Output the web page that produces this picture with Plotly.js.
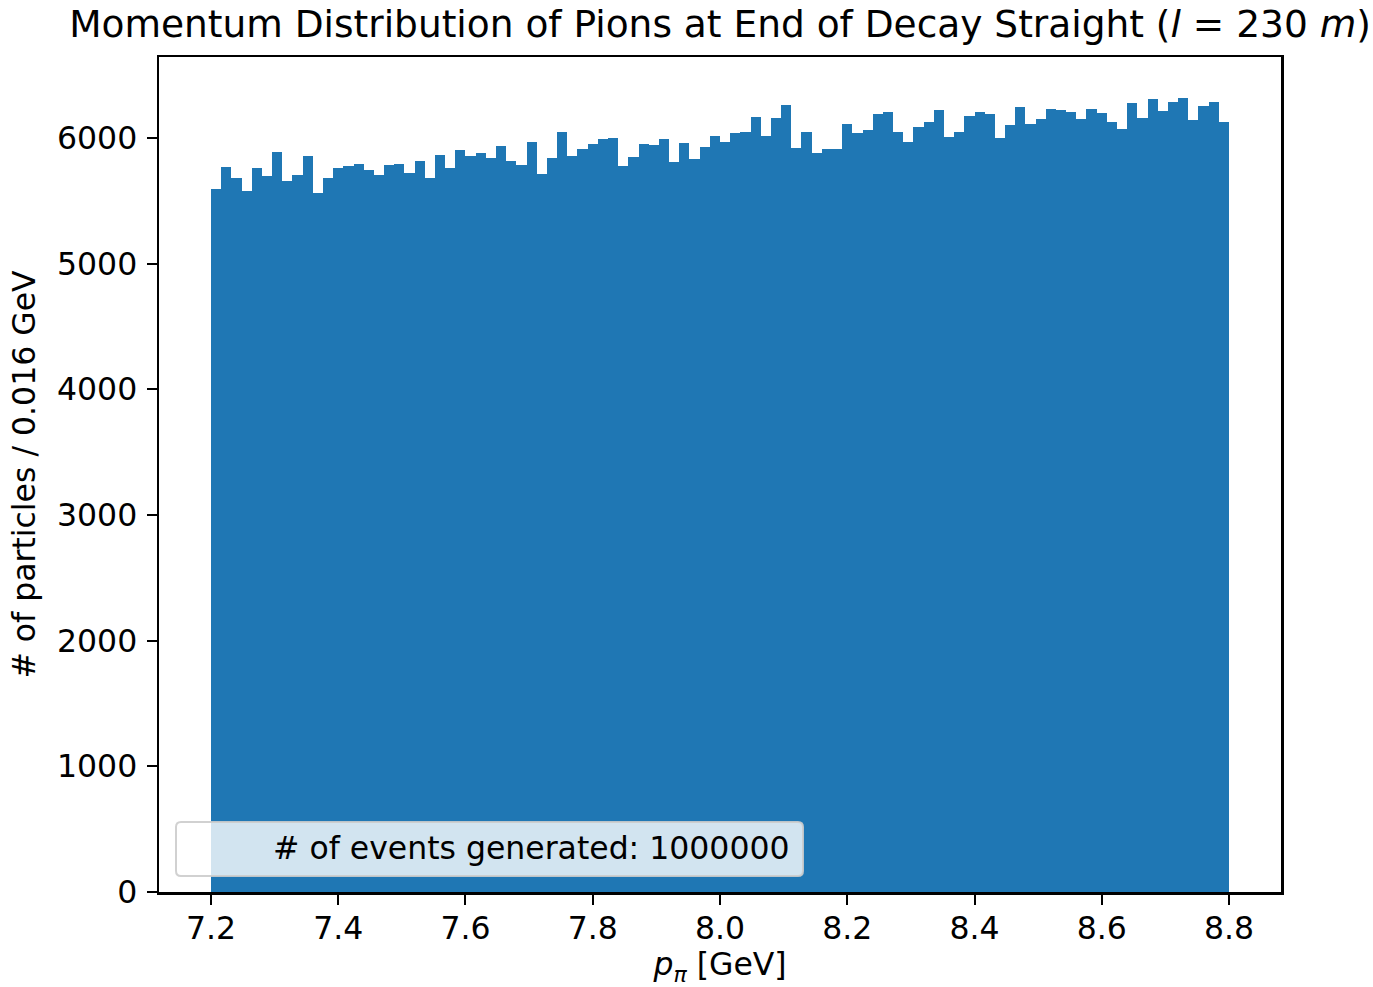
<!DOCTYPE html>
<html>
<head>
<meta charset="utf-8">
<script src="https://cdn.plot.ly/plotly-3.0.1.min.js"></script>
<style>
  html, body { margin: 0; padding: 0; background: #ffffff; }
  #chart { width: 1373px; height: 987px; }
</style>
</head>
<body>
<div id="chart"></div>
<script>
// Histogram: 100 bins of 0.016 GeV from 7.2 to 8.8 GeV
const binStart = 7.2;
const binWidth = 0.016;
const counts = [
  5595, 5770, 5683, 5577, 5757, 5694, 5890, 5659, 5704, 5853,
  5558, 5683, 5760, 5776, 5792, 5741, 5707, 5784, 5789, 5722,
  5818, 5680, 5861, 5757, 5908, 5855, 5882, 5837, 5937, 5815,
  5786, 5969, 5714, 5839, 6049, 5855, 5913, 5953, 5988, 5996,
  5778, 5845, 5951, 5940, 5988, 5805, 5956, 5829, 5924, 6017,
  5969, 6036, 6044, 6165, 6012, 6160, 6266, 5919, 6044, 5877,
  5913, 5910, 6107, 6041, 6060, 6192, 6203, 6049, 5967, 6091,
  6128, 6219, 6009, 6046, 6171, 6205, 6187, 5996, 6104, 6243,
  6110, 6152, 6234, 6221, 6205, 6150, 6227, 6197, 6128, 6070,
  6279, 6155, 6311, 6216, 6287, 6314, 6144, 6253, 6285, 6128
];
const xTickVals = [7.2, 7.4, 7.6, 7.8, 8.0, 8.2, 8.4, 8.6, 8.8];
const yTickVals = [0, 1000, 2000, 3000, 4000, 5000, 6000];
const titleText = 'Momentum Distribution of Pions at End of Decay Straight (<i>l</i> = 230 <i>m</i>)';
const xLabel = '<i>p</i><sub><i>π</i></sub> [GeV]';
const yLabel = '# of particles / 0.016 GeV';
const legendText = '# of events generated: 1000000';

const centers = counts.map((_, i) => binStart + binWidth * (i + 0.5));

const FONT = 'DejaVu Sans, sans-serif';
const FS = 31.5;

const trace = {
  type: 'bar',
  x: centers,
  y: counts,
  width: binWidth,
  marker: { color: '#1f77b4', line: { width: 0 } },
  hoverinfo: 'x+y'
};

// rounded legend box in pixel units anchored at paper coordinates
function roundedRect(w, h, r) {
  return `M ${r} 0 L ${w - r} 0 Q ${w} 0 ${w} ${r} L ${w} ${h - r} Q ${w} ${h} ${w - r} ${h} ` +
         `L ${r} ${h} Q 0 ${h} 0 ${h - r} L 0 ${r} Q 0 0 ${r} 0 Z`;
}

const layout = {
  width: 1373,
  height: 987,
  paper_bgcolor: '#ffffff',
  plot_bgcolor: '#ffffff',
  margin: { l: 159, r: 92, t: 57, b: 95 },
  showlegend: false,
  bargap: 0,
  font: { family: FONT, size: FS, color: '#000000' },
  title: {
    text: titleText,
    font: { family: FONT, size: 37.5, color: '#000000' },
    x: 0.5, xref: 'paper', xanchor: 'center',
    y: 1 - 24 / 987, yref: 'container', yanchor: 'middle'
  },
  xaxis: {
    range: [7.1183, 8.8817],
    tickvals: xTickVals,
    ticktext: xTickVals.map(v => v.toFixed(1)),
    ticks: 'outside', ticklen: 10, tickwidth: 2, tickcolor: '#000',
    ticklabelstandoff: -3,
    showline: true, linewidth: 2.5, linecolor: '#000', mirror: true,
    showgrid: false, zeroline: false,
    tickfont: { family: FONT, size: FS, color: '#000' },
    title: { text: xLabel, font: { family: FONT, size: FS, color: '#000' }, standoff: 14 }
  },
  yaxis: {
    range: [0, 6644],
    tickvals: yTickVals,
    ticktext: yTickVals.map(v => String(v)),
    ticks: 'outside', ticklen: 10, tickwidth: 2, tickcolor: '#000',
    ticklabelstandoff: 3,
    showline: true, linewidth: 2.5, linecolor: '#000', mirror: true,
    showgrid: false, zeroline: false,
    tickfont: { family: FONT, size: FS, color: '#000' },
    title: { text: yLabel, font: { family: FONT, size: FS, color: '#000' }, standoff: 12 }
  },
  shapes: [{
    type: 'path',
    xref: 'paper', yref: 'paper',
    xsizemode: 'pixel', ysizemode: 'pixel',
    xanchor: (176 - 159) / 1122, yanchor: (892 - 876) / 835,
    path: roundedRect(627, 54, 5),
    fillcolor: 'rgba(255,255,255,0.8)',
    line: { color: 'rgba(204,204,204,0.9)', width: 2 },
    layer: 'above'
  }],
  annotations: [{
    xref: 'paper', yref: 'paper',
    x: (792 - 159) / 1122, y: (892 - 848) / 835,
    xanchor: 'right', yanchor: 'middle',
    text: legendText, showarrow: false,
    font: { family: FONT, size: FS, color: '#000' }
  }]
};

Plotly.newPlot('chart', [trace], layout, { displayModeBar: false, staticPlot: true });
</script>
</body>
</html>
